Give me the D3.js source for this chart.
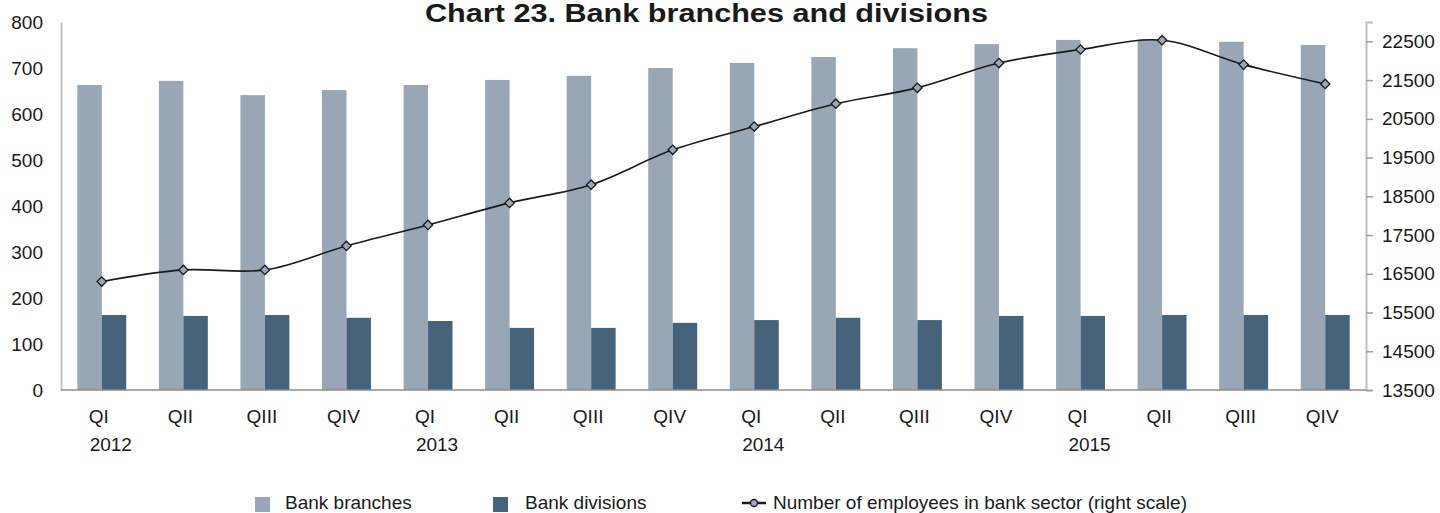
<!DOCTYPE html>
<html><head><meta charset="utf-8">
<script src="https://cdn.jsdelivr.net/npm/d3@7"></script>
<style>
body{margin:0;background:#fff;}
text{font-family:"Liberation Sans",Arial,sans-serif;fill:#1a1a1a;}
</style></head>
<body><svg id="c" width="1440" height="513"></svg>
<script>
const quarters = ["QI","QII","QIII","QIV","QI","QII","QIII","QIV","QI","QII","QIII","QIV","QI","QII","QIII","QIV"];
const years = ["2012","","","","2013","","","","2014","","","","2015","","",""];
const branches = [663,672,641,652,663,674,683,700,711,724,743,752,761,762,757,750];
const divisions = [163,161,163,157,150,135,135,146,152,157,152,161,161,163,163,163];
const employees = [16300,16600,16600,17220,17760,18330,18800,19700,20300,20890,21300,21940,22290,22530,21900,21400];
const leftTicks = [0,100,200,300,400,500,600,700,800];
const rightTicks = [13500,14500,15500,16500,17500,18500,19500,20500,21500,22500];
const title = "Chart 23. Bank branches and divisions";
const seriesNames = ["Bank branches","Bank divisions","Number of employees in bank sector (right scale)"];
const colors = {b:"#99a6b5", d:"#46637c", line:"#1a1a1a"};

const svg = d3.select("#c");
const L = 61, R = 1366, T = 22, B = 390;
const idx = d3.range(quarters.length);
const x = d3.scaleBand().domain(idx).range([L,R]).paddingInner(0.4).paddingOuter(0.2);
const x1 = d3.scaleBand().domain(["b","d"]).range([0,x.bandwidth()]);
const yL = d3.scaleLinear().domain([0,800]).range([B,T]);
const yR = d3.scaleLinear().domain([13500,23000]).range([B,T]);

// bars
const g = svg.append("g");
g.selectAll("rect.b").data(branches).join("rect")
 .attr("x",(d,i)=>x(i)+x1("b")).attr("width",x1.bandwidth())
 .attr("y",d=>yL(d)).attr("height",d=>yL(0)-yL(d)).attr("fill",colors.b);
g.selectAll("rect.d").data(divisions).join("rect")
 .attr("x",(d,i)=>x(i)+x1("d")).attr("width",x1.bandwidth())
 .attr("y",d=>yL(d)).attr("height",d=>yL(0)-yL(d)).attr("fill",colors.d);

// left axis
const la = svg.append("g").attr("transform",`translate(${L},0)`)
 .call(d3.axisLeft(yL).tickValues(leftTicks).tickSize(0).tickPadding(18));
la.select(".domain").attr("stroke","#c0c0c0").attr("stroke-width",2);
la.selectAll("text").style("font-size","19px").attr("fill","#1a1a1a");

// right axis
const ra = svg.append("g").attr("transform",`translate(${R},0)`)
 .call(d3.axisRight(yR).tickValues(rightTicks).tickSize(7).tickPadding(9).tickFormat(d3.format("d")));
ra.select(".domain").attr("stroke","#c0c0c0").attr("stroke-width",2);
ra.selectAll(".tick line").attr("stroke","#a0a0a0").attr("stroke-width",1.5);
ra.selectAll("text").style("font-size","19px").attr("fill","#1a1a1a");

// baseline
svg.append("line").attr("x1",L).attr("x2",R).attr("y1",yL(0)).attr("y2",yL(0))
 .attr("stroke","#8c8c8c").attr("stroke-width",1.5);

// x labels
const cx = i => x(i)+x.bandwidth()/2;
svg.append("g").selectAll("text").data(quarters).join("text")
 .attr("x",(d,i)=>cx(i)-3).attr("y",423).attr("text-anchor","middle")
 .style("font-size","19px").text(d=>d);
svg.append("g").selectAll("text").data(years).join("text")
 .attr("x",(d,i)=>cx(i)+9).attr("y",451).attr("text-anchor","middle")
 .style("font-size","19px").text(d=>d);

// line
const line = d3.line().x((d,i)=>cx(i)).y(d=>yR(d)).curve(d3.curveCatmullRom.alpha(0.5));
svg.append("path").attr("d",line(employees)).attr("fill","none")
 .attr("stroke",colors.line).attr("stroke-width",1.6);
const sym = d3.symbol(d3.symbolSquare,44);
svg.append("g").selectAll("path").data(employees).join("path")
 .attr("d",sym).attr("transform",(d,i)=>`translate(${cx(i)},${yR(d)}) rotate(45)`)
 .attr("fill","#9aa8b8").attr("stroke","#1a1a1a").attr("stroke-width",1.3);

// title
svg.append("text").attr("x",425).attr("y",22).attr("text-anchor","start")
 .attr("textLength",563).attr("lengthAdjust","spacingAndGlyphs")
 .style("font-size","25px").style("font-weight","bold").text(title);

// legend
const lg = svg.append("g");
lg.append("rect").attr("x",255).attr("y",497).attr("width",15).attr("height",15).attr("fill",colors.b);
lg.append("text").attr("x",285).attr("y",509).style("font-size","19px").text(seriesNames[0]);
lg.append("rect").attr("x",493).attr("y",497).attr("width",15).attr("height",15).attr("fill",colors.d);
lg.append("text").attr("x",525).attr("y",509).style("font-size","19px").text(seriesNames[1]);
lg.append("line").attr("x1",742).attr("x2",766).attr("y1",503).attr("y2",503).attr("stroke",colors.line).attr("stroke-width",2.5);
lg.append("circle").attr("cx",754).attr("cy",503).attr("r",3.5).attr("fill","#9aa8b8").attr("stroke",colors.line).attr("stroke-width",1.3);
lg.append("text").attr("x",773).attr("y",509).style("font-size","19px").text(seriesNames[2]);
</script></body></html>
